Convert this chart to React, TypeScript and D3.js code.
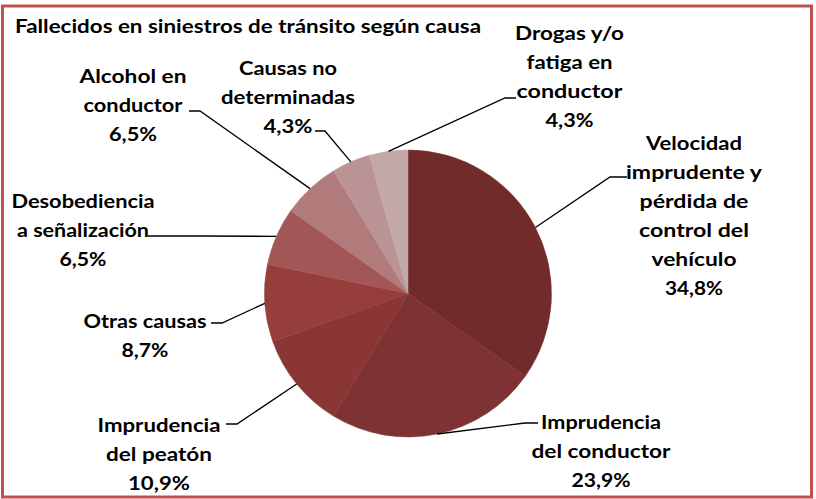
import React from "react";
import * as d3 from "d3";

// ---- data ----
const titleText = "Fallecidos  en siniestros de tránsito según causa";
const categories: string[][] = [
  ["Velocidad", "imprudente y", "pérdida de", "control del", "vehículo"],
  ["Imprudencia", "del conductor"],
  ["Imprudencia", "del peatón"],
  ["Otras causas"],
  ["Desobediencia", "a señalización"],
  ["Alcohol en", "conductor"],
  ["Causas no", "determinadas"],
  ["Drogas y/o", "fatiga en", "conductor"],
];
const values: number[] = [16, 11, 5, 4, 3, 3, 2, 2];
const colors: string[] = [
  "#722b2b",
  "#7f3233",
  "#8a3634",
  "#963e3b",
  "#a25655",
  "#b07b7a",
  "#ba9494",
  "#c3a8a8",
];

// ---- layout (positions / sizes) ----
const W = 816;
const H = 499;
const cx = 408;
const cy = 293.5;
const R = 143.5;
const lineGap = 29;

// label block: center x, first baseline, width of each line, leader start (label side) and elbow
const labelLayout = [
  { x: 694, y: 150, widths: [96, 136, 109, 110, 85, 58], lead: [[627, 177], [610, 177]] },
  { x: 601, y: 429, widths: [120, 139, 59], lead: [[538, 423], [525, 423]] },
  { x: 159, y: 432, widths: [123, 106, 62], lead: [[226, 424], [237, 424]] },
  { x: 145, y: 328, widths: [123, 47], lead: [[211, 323], [222, 323]] },
  { x: 83, y: 208, widths: [143, 132, 47], lead: [[148, 236], [200, 236]] },
  { x: 133, y: 83, widths: [107, 99, 48], lead: [[189, 111], [200, 111]] },
  { x: 288, y: 75, widths: [98, 134, 49], lead: [[315, 131], [325, 131]] },
  { x: 569.5, y: 40, widths: [109, 86, 106, 48], lead: [[516, 98], [505, 98]] },
];

const FONT = "Lato, 'Open Sans', 'Liberation Sans', sans-serif";

export default function App() {
  const total = d3.sum(values);
  const pie = d3
    .pie<number>()
    .sort(null)
    .startAngle(0)
    .endAngle(2 * Math.PI)
    .value((d) => d);
  const arcs = pie(values);
  const arcGen = d3.arc<d3.PieArcDatum<number>>().innerRadius(0).outerRadius(R);
  const edgeArc = d3.arc<d3.PieArcDatum<number>>().innerRadius(R).outerRadius(R);
  const pct = (v: number) => ((v / total) * 100).toFixed(1).replace(".", ",") + "%";

  return (
    <svg
      width={W}
      height={H}
      style={{ position: "absolute", left: 0, top: 0, background: "#ffffff" }}
      xmlns="http://www.w3.org/2000/svg"
    >
      <rect x={0} y={0} width={W} height={H} fill="#ffffff" />
      <rect x={2.5} y={6} width={809} height={491} fill="none" stroke="#c0504d" strokeWidth={3} />
      <text
        x={15}
        y={33}
        fontFamily={FONT}
        fontWeight={700}
        fontSize={18}
        fill="#000"
        textLength={466}
        lengthAdjust="spacingAndGlyphs"
      >
        {titleText}
      </text>
      <g transform={`translate(${cx},${cy})`}>
        {arcs.map((a, i) => (
          <path key={i} d={arcGen(a) || ""} fill={colors[i]} stroke={colors[i]} strokeWidth={0.5} />
        ))}
      </g>
      {arcs.map((a, i) => {
        const c = edgeArc.centroid(a);
        const L = labelLayout[i];
        const pts = [...L.lead, [cx + c[0], cy + c[1]]];
        return (
          <polyline
            key={"l" + i}
            points={pts.map((p) => p.join(",")).join(" ")}
            fill="none"
            stroke="#000"
            strokeWidth={1.3}
          />
        );
      })}
      {categories.map((lines, i) => {
        const L = labelLayout[i];
        const all = [...lines, pct(values[i])];
        return (
          <text
            key={"t" + i}
            fontFamily={FONT}
            fontWeight={700}
            fontSize={19}
            fill="#000"
            textAnchor="middle"
          >
            {all.map((s, j) => (
              <tspan
                key={j}
                x={L.x}
                y={L.y + j * lineGap}
                textLength={L.widths[j]}
                lengthAdjust="spacingAndGlyphs"
              >
                {s}
              </tspan>
            ))}
          </text>
        );
      })}
    </svg>
  );
}
